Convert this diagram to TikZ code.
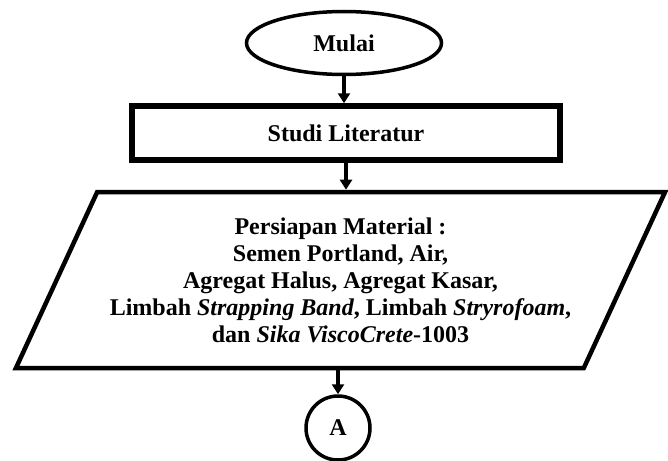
\documentclass[tikz,border=0pt]{standalone}
\usepackage{fontspec}
\setmainfont{Liberation Serif}
\usetikzlibrary{shapes.geometric,arrows.meta}

\tikzset{
  boxfont/.style={font=\fontsize{24}{27}\selectfont\bfseries},
  terminal/.style={ellipse, draw, line width=3.5pt, minimum width=195pt,
    minimum height=63pt, inner sep=0pt, boxfont},
  process/.style={rectangle, draw, line width=5.5pt, minimum width=428pt,
    minimum height=54pt, inner sep=0pt, boxfont},
  inout/.style={trapezium, draw, line width=4.5pt, trapezium left angle=59.3,
    trapezium right angle=120.7, trapezium stretches=true,
    minimum width=655pt, minimum height=176pt, align=center, boxfont},
  connector/.style={circle, draw, line width=3.5pt, minimum size=64pt,
    inner sep=0pt, boxfont},
  flow/.style={line width=3.5pt, -{Triangle[length=10pt,width=12pt]}}
}

\begin{document}
\begin{tikzpicture}[x=1pt,y=-1pt]
    \useasboundingbox (0,0) rectangle (668,460);
    % Draw the blocks
    \node [terminal] (mulai) at (344,43) {Mulai};
    \node [process] (studi) at (346,133) {Studi Literatur};
    \node [inout] (material) at (340.5,280) {Persiapan Material :\\
        Semen Portland, Air,\\
        Agregat Halus, Agregat Kasar,\\
        Limbah \textit{Strapping Band}, Limbah \textit{Stryrofoam},\\
        dan \textit{Sika ViscoCrete}-1003};
    \node [connector] (conA) at (338,428) {A};

    % Draw the flow
    \draw [flow] (mulai.south) -- (mulai.south |- studi.north);
    \draw [flow] (studi.south) -- (studi.south |- material.north);
    \draw [flow] (material.south -| conA.north) -- (conA.north);

\end{tikzpicture}
\end{document}
